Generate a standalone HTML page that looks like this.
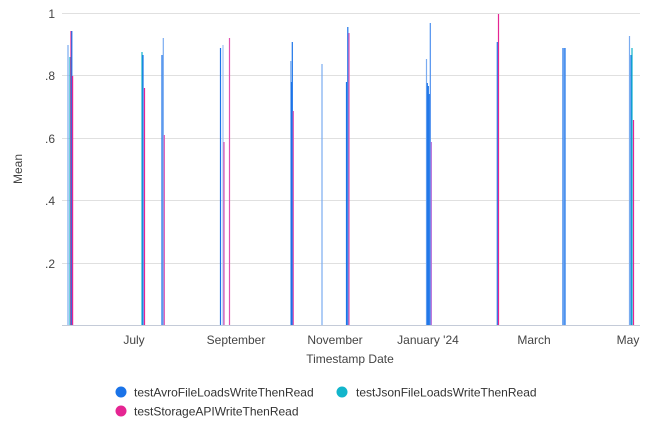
<!DOCTYPE html>
<html><head><meta charset="utf-8"><style>
html,body{margin:0;padding:0;background:#fff;}
svg{display:block;font-family:"Liberation Sans",sans-serif;}
</style></head><body>
<svg width="650" height="442" viewBox="0 0 650 442">
<g stroke="#e0e0e0" stroke-width="1">
<line x1="62" x2="640" y1="13.5" y2="13.5"/>
<line x1="62" x2="640" y1="75.5" y2="75.5"/>
<line x1="62" x2="640" y1="138.5" y2="138.5"/>
<line x1="62" x2="640" y1="200.5" y2="200.5"/>
<line x1="62" x2="640" y1="263.5" y2="263.5"/>
</g>
<g fill="#444" font-size="12" text-anchor="end">
<text x="55" y="18">1</text>
<text x="55" y="80">.8</text>
<text x="55" y="143">.6</text>
<text x="55" y="205">.4</text>
<text x="55" y="268">.2</text>
</g>
<text transform="translate(22,169) rotate(-90)" text-anchor="middle" font-size="12" fill="#444">Mean</text>
<g stroke-width="1.2">
<line x1="68" x2="68" y1="45" y2="325" stroke="#7aacf0"/>
<line x1="70" x2="70" y1="57" y2="325" stroke="#12b5cb"/>
<line x1="71" x2="71" y1="31" y2="325" stroke="#e52592"/>
<line x1="71.8" x2="71.8" y1="31" y2="325" stroke="#1a73e8"/>
<line x1="72.6" x2="72.6" y1="76" y2="325" stroke="#e52592"/>
<line x1="142" x2="142" y1="52" y2="325" stroke="#12b5cb"/>
<line x1="143" x2="143" y1="55" y2="325" stroke="#1a73e8"/>
<line x1="144.5" x2="144.5" y1="88" y2="325" stroke="#e52592"/>
<line x1="162" x2="162" y1="55" y2="325" stroke="#1a73e8"/>
<line x1="163.3" x2="163.3" y1="38" y2="325" stroke="#7aacf0"/>
<line x1="164.3" x2="164.3" y1="135" y2="325" stroke="#e052b0"/>
<line x1="220.5" x2="220.5" y1="48" y2="325" stroke="#1a73e8"/>
<line x1="223" x2="223" y1="45" y2="325" stroke="#9ec1f5"/>
<line x1="224" x2="224" y1="142" y2="325" stroke="#e052b0"/>
<line x1="229.5" x2="229.5" y1="38" y2="325" stroke="#e052b0"/>
<line x1="290.8" x2="290.8" y1="61" y2="325" stroke="#7aacf0"/>
<line x1="291.5" x2="291.5" y1="82" y2="325" stroke="#1a73e8"/>
<line x1="292.3" x2="292.3" y1="42" y2="325" stroke="#1a73e8"/>
<line x1="293.3" x2="293.3" y1="111" y2="325" stroke="#e052b0"/>
<line x1="322" x2="322" y1="64" y2="325" stroke="#7aacf0"/>
<line x1="346.5" x2="346.5" y1="82" y2="325" stroke="#1a73e8"/>
<line x1="347.8" x2="347.8" y1="27" y2="325" stroke="#1a73e8"/>
<line x1="349" x2="349" y1="33" y2="325" stroke="#e052b0"/>
<line x1="426.5" x2="426.5" y1="59" y2="325" stroke="#7aacf0"/>
<line x1="427.3" x2="427.3" y1="83" y2="325" stroke="#1a73e8"/>
<line x1="428.3" x2="428.3" y1="86" y2="325" stroke="#1a73e8"/>
<line x1="429.3" x2="429.3" y1="94" y2="325" stroke="#1a73e8"/>
<line x1="430.3" x2="430.3" y1="23" y2="325" stroke="#4c8fee"/>
<line x1="431.3" x2="431.3" y1="142" y2="325" stroke="#b86bd6"/>
<line x1="497.3" x2="497.3" y1="42" y2="325" stroke="#1a73e8"/>
<line x1="498.5" x2="498.5" y1="14" y2="325" stroke="#e52592"/>
<line x1="563" x2="563" y1="48" y2="325" stroke="#1a73e8"/>
<line x1="564" x2="564" y1="48" y2="325" stroke="#9ec1f5"/>
<line x1="565" x2="565" y1="48" y2="325" stroke="#1a73e8"/>
<line x1="629.5" x2="629.5" y1="36" y2="325" stroke="#7aacf0"/>
<line x1="631" x2="631" y1="55" y2="325" stroke="#1a73e8"/>
<line x1="632" x2="632" y1="48" y2="325" stroke="#12b5cb"/>
<line x1="633.5" x2="633.5" y1="120" y2="325" stroke="#e52592"/>
</g>
<line x1="62" x2="640" y1="325.5" y2="325.5" stroke="#c4cbd8" stroke-width="1"/>
<g fill="#444" font-size="12" text-anchor="middle">
<text x="134" y="344">July</text>
<text x="236" y="344">September</text>
<text x="335" y="344">November</text>
<text x="428" y="344">January '24</text>
<text x="534" y="344">March</text>
<text x="628" y="344">May</text>
<text x="350" y="363">Timestamp Date</text>
</g>
<g font-size="12" fill="#333">
<circle cx="121" cy="392" r="5.5" fill="#1a73e8"/>
<text x="134" y="396.5">testAvroFileLoadsWriteThenRead</text>
<circle cx="342" cy="392" r="5.5" fill="#12b5cb"/>
<text x="356" y="396.5">testJsonFileLoadsWriteThenRead</text>
<circle cx="121" cy="411" r="5.5" fill="#e52592"/>
<text x="134" y="415.5">testStorageAPIWriteThenRead</text>
</g>
</svg>
</body></html>
